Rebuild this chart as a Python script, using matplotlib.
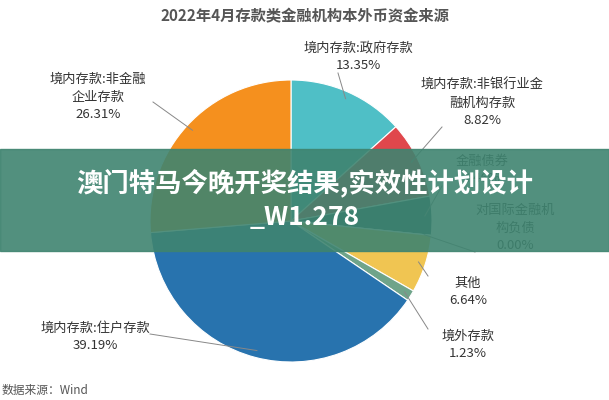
import matplotlib
matplotlib.use("Agg")
import matplotlib.pyplot as plt
import numpy as np

plt.rcParams['font.family'] = ['Noto Sans CJK SC', 'DejaVu Sans']

labels = ["境内存款:政府存款", "境内存款:非银行业金\n融机构存款", "金融债券", "对国际金融机\n构负债", "其他", "境外存款", "境内存款:住户存款", "境内存款:非金融\n企业存款"]
values = [13.35, 8.82, 4.46, 0.00, 6.64, 1.23, 39.19, 26.31]
colors = ["#4FBFC6", "#E0474C", "#1D5A66", "#555555", "#F0C552", "#6FA48A", "#2873AE", "#F5901E"]
# label text positions in figure pixels (x, y from top)
label_pos = [(358, 57), (482, 103), (482, 170), (515, 228), (468, 292), (468, 345), (95, 337), (98, 97)]

W, H = 609, 400
fig = plt.figure(figsize=(W/100, H/100), dpi=100)
fig.patch.set_facecolor("white")
cx, cy, r = 291, 221, 141
ax = fig.add_axes([(cx-r)/W, 1-(cy+r)/H, 2*r/W, 2*r/H])
wedges, _ = ax.pie(values, colors=colors, startangle=90, counterclock=False,
                   wedgeprops=dict(edgecolor="white", linewidth=0.8))
ax.set_xlim(-1, 1); ax.set_ylim(-1, 1)
ax.set_aspect("equal")

fax = fig.add_axes([0, 0, 1, 1], facecolor="none")
fax.set_xlim(0, W); fax.set_ylim(H, 0); fax.axis("off")

cum = 0
for i, (lab, v) in enumerate(zip(labels, values)):
    mid = 90 - (cum + v/2) / 100 * 360
    cum += v
    a = np.deg2rad(mid)
    px, py = cx + r*0.95*np.cos(a), cy - r*0.95*np.sin(a)
    tx, ty = label_pos[i]
    txt = f"{lab}\n{v:.2f}%"
    fax.text(tx, ty, txt, ha="center", va="center", fontsize=9.5, color="#333333", linespacing=1.45)
    nl = txt.count("\n") + 1
    ey = ty + (nl*8 if py > ty else -nl*8)
    ex = tx - 40 if px < tx else tx + 40
    if i == 0:
        ex, ey = tx - 20, ty + 16
    if i == 7:
        ex, ey = tx + 55, ty + 5
    if i == 6:
        ex, ey = tx + 55, ty - 3
    fax.plot([px, ex], [py, ey], color="#888888", lw=0.7)

fig.text(0.5, 1-16/H, "2022年4月存款类金融机构本外币资金来源", ha="center", va="center",
         fontsize=11, color="#555555", fontweight="bold")
fig.text(2/W, 1-390/H, "数据来源：Wind", ha="left", va="center", fontsize=8.5, color="#555555")

# overlay banner
fax.add_patch(plt.Rectangle((0, 149), W, 102, color="#3F8470", alpha=0.9, zorder=5))
fax.text(W/2, 200, "澳门特马今晚开奖结果,实效性计划设计\n_W1.278", ha="center", va="center",
         fontsize=19, color="white", fontweight="bold", zorder=6, linespacing=1.3)

fig.savefig("out.png", dpi=100)
